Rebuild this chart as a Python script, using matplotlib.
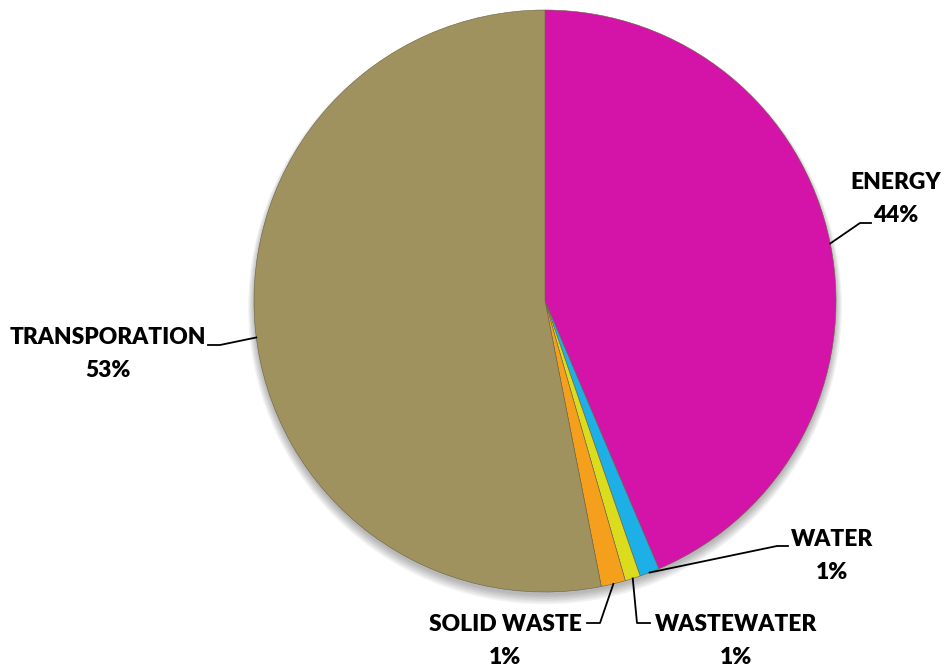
import matplotlib.pyplot as plt
from matplotlib.patches import Circle
import numpy as np

categories = ['ENERGY', 'WATER', 'WASTEWATER', 'SOLID WASTE', 'TRANSPORATION']
values = [43.6, 1.1, 0.85, 1.35, 53.1]
colors = ['#D414A8', '#1CB0E6', '#DCDC1E', '#F5A01C', '#A0925F']

plt.rcParams['font.family'] = ['Lato', 'DejaVu Sans']

fig = plt.figure(figsize=(9.47, 6.68), dpi=100)
# pie centre ~ (545, 301) px, radius ~ 291 px
R = 291
ax = fig.add_axes([(545 - R) / 947, (668 - 301 - R) / 668, 2 * R / 947, 2 * R / 668])

# soft shadow under the pie
for k in range(6):
    ax.add_patch(Circle((0, -0.012 - k * 0.002), 1.0 + k * 0.004, color='black',
                        alpha=0.05, lw=0, zorder=0, clip_on=False))

wedges, _ = ax.pie(values, colors=colors, startangle=90, counterclock=False, radius=1,
                   wedgeprops=dict(edgecolor='#6b6045', linewidth=0.4, zorder=1))
ax.set_xlim(-1, 1)
ax.set_ylim(-1, 1)
ax.set_aspect('equal')
ax.axis('off')


def px(x, y):
    return ((x - 545) / R, (301 - y) / R)


# label layout: text centre (px), elbow points (px), anchor angle (deg clockwise from top) or None = wedge middle
layout = {
    'ENERGY': dict(text=(896, 199), path=[(860, 223), (871, 223)], ang=78.6),
    'WATER': dict(text=(832, 556), path=[(777, 546), (788, 546)], ang=None),
    'WASTEWATER': dict(text=(736, 641), path=[(637, 623), (650, 623)], ang=None),
    'SOLID WASTE': dict(text=(505, 641), path=[(600, 623), (587, 623)], ang=None),
    'TRANSPORATION': dict(text=(108, 354), path=[(220, 345), (208, 345)], ang=262.8),
}

total = sum(values)
start = 0.0
for name, v in zip(categories, values):
    span = 360.0 * v / total
    lay = layout[name]
    a = lay['ang'] if lay['ang'] is not None else start + span / 2
    t = np.deg2rad(a)
    pts = [(np.sin(t) * 1.0, np.cos(t) * 1.0)] + [px(*p) for p in lay['path']]
    xs, ys = zip(*pts)
    ax.plot(xs, ys, color='black', lw=1.3, clip_on=False, zorder=3)
    tx, ty = px(*lay['text'])
    ax.text(tx, ty, f'{name}\n{round(v):.0f}%', ha='center', va='center',
            fontsize=16.4, fontweight='heavy', linespacing=1.68, clip_on=False)
    start += span

fig.savefig('out.png', dpi=100)
